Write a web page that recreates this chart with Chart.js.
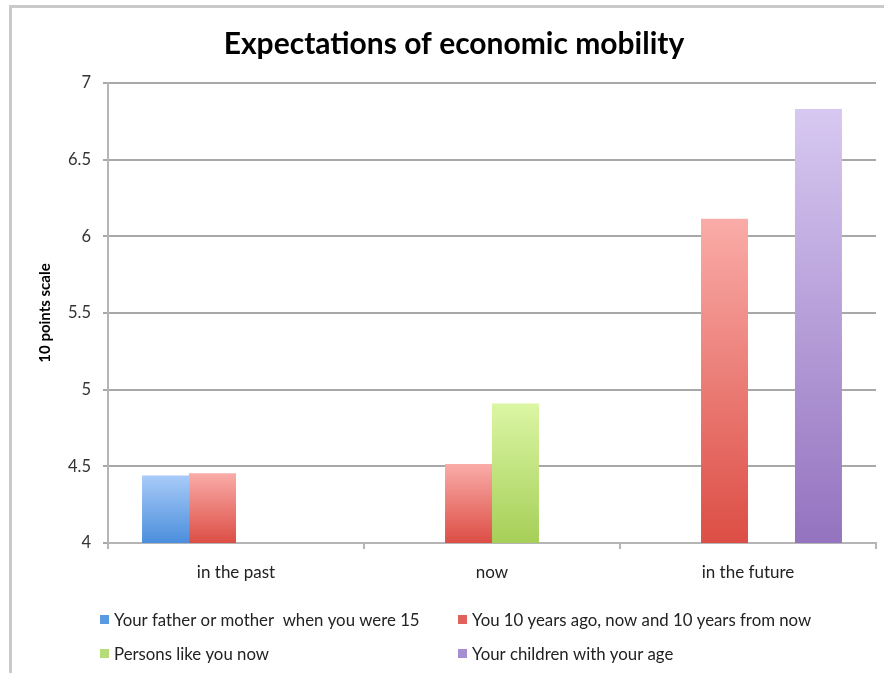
<!DOCTYPE html>
<html>
<head>
<meta charset="utf-8">
<script src="https://cdn.jsdelivr.net/npm/chart.js@4"></script>
<style>
  body { margin: 0; background: #fff; }
  #frame {
    position: absolute; left: 9px; top: 5px;
    width: 875px; height: 668px;
    border-left: 3px solid #cacaca; border-top: 3px solid #cacaca;
  }
  #mobility { display: block; }
</style>
</head>
<body>
<div id="frame"><canvas id="mobility" width="872" height="665"></canvas></div>
<script>
const categories = ["in the past", "now", "in the future"];
const seriesNames = [
  "Your father or mother  when you were 15",
  "You 10 years ago, now and 10 years from now",
  "Persons like you now",
  "Your children with your age"
];
const parentValues = [4.44, null, null];
const selfValues = [4.455, 4.515, 6.115];
const peersValues = [null, 4.91, null];
const childrenValues = [null, null, 6.83];
const yTicks = [4, 4.5, 5, 5.5, 6, 6.5, 7];

const FONT = "Lato, 'Open Sans', sans-serif";

// vertical gradient per bar, light on top, darker at base
function grad(top, bottom) {
  return function (ctx) {
    const chart = ctx.chart;
    if (!chart.chartArea || ctx.type !== "data" || ctx.raw == null) return bottom;
    const y = chart.scales.y;
    const g = chart.ctx.createLinearGradient(0, y.getPixelForValue(ctx.raw), 0, y.getPixelForValue(y.min));
    g.addColorStop(0, top);
    g.addColorStop(1, bottom);
    return g;
  };
}

const legendColors = ["#5a9ae2", "#e0625b", "#b6dc7a", "#a58ed2"];

// two-column legend under the x axis
const twoColLegend = {
  id: "twoColLegend",
  afterDraw(chart) {
    const c = chart.ctx;
    const cols = [chart.chartArea.left - 8, 446];
    const rows = [613, 647];
    c.save();
    c.font = "16.8px " + FONT;
    c.textBaseline = "middle";
    seriesNames.forEach((name, i) => {
      const x = cols[i % 2], y = rows[Math.floor(i / 2)];
      c.fillStyle = legendColors[i];
      c.fillRect(x, y - 6, 9, 9);
      c.fillStyle = "#222";
      c.fillText(name, x + 14, y);
    });
    c.restore();
  }
};

new Chart(document.getElementById("mobility"), {
  type: "bar",
  data: {
    labels: categories,
    datasets: [
      { label: seriesNames[0], data: parentValues, backgroundColor: grad("#a8cbf8", "#4b8edc") },
      { label: seriesNames[1], data: selfValues, backgroundColor: grad("#faaca8", "#dc4e45") },
      { label: seriesNames[2], data: peersValues, backgroundColor: grad("#dbf6a4", "#a6cf58") },
      { label: seriesNames[3], data: childrenValues, backgroundColor: grad("#d7c8f1", "#9473bf") }
    ]
  },
  options: {
    responsive: false,
    devicePixelRatio: 1,
    animation: false,
    categoryPercentage: 0.734,
    barPercentage: 1,
    layout: { padding: { left: 20, right: 8, top: 0, bottom: 90 } },
    plugins: {
      legend: { display: false },
      tooltip: { enabled: false },
      title: {
        display: true,
        text: "Expectations of economic mobility",
        color: "#000",
        font: { family: FONT, size: 30, weight: "bold" },
        padding: { top: 18, bottom: 21 }
      }
    },
    scales: {
      x: {
        grid: { display: true, drawOnChartArea: false, offset: true, tickLength: 6, color: "#b5b5b5", lineWidth: 2 },
        border: { color: "#b5b5b5", width: 2 },
        ticks: { color: "#222", font: { family: FONT, size: 17 }, padding: 13 },
        afterFit(scale) { scale.height = 40; }
      },
      y: {
        min: 4,
        max: 7,
        afterBuildTicks(scale) { scale.ticks = yTicks.map(v => ({ value: v })); },
        grid: { color: "#a8a8a8", lineWidth: 2, tickLength: 5 },
        border: { color: "#b5b5b5", width: 2 },
        ticks: { color: "#333", font: { family: FONT, size: 16.5 }, padding: 12, callback: v => String(v) },
        title: {
          display: true,
          text: "10 points scale",
          color: "#000",
          font: { family: FONT, size: 15, weight: "bold" }
        },
        afterFit(scale) { scale.width = 76; }
      }
    }
  },
  plugins: [twoColLegend]
});
</script>
</body>
</html>
